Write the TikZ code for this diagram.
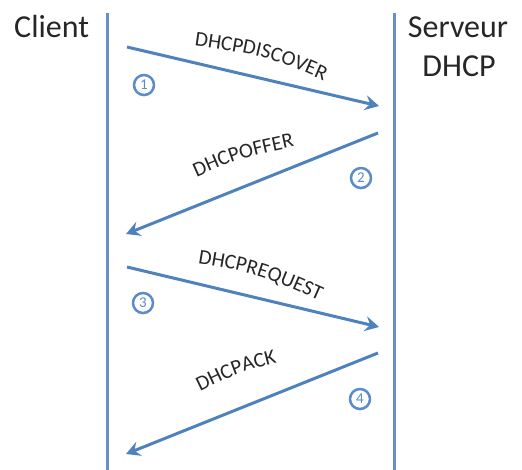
\documentclass[tikz,border=0pt]{standalone}
\usepackage{fontspec}
\setmainfont{Carlito}
\usetikzlibrary{arrows.meta,shadows,decorations.text}
\definecolor{msgblue}{HTML}{4F81BD}
\definecolor{lifeblue}{HTML}{6690C6}
\definecolor{numblue}{HTML}{5B8BC8}
\newcommand{\labelfont}{\fontsize{21}{21}\selectfont}
\tikzset{
  lifeline/.style={draw=lifeblue, line width=3pt},
  msg/.style={draw=msgblue, line width=3pt,
    -{Stealth[length=14pt, width=15pt, inset=5pt]}},
  % message name set along a gently arched baseline
  arched/.style={decorate, decoration={text along path, text align=center,
    text color=black!85, text={|\labelfont|#1}}},
  party/.style={font=\fontsize{32}{40}\selectfont, inner sep=0pt, text=black!85},
  stepnum/.style={circle, draw=numblue, line width=2.5pt, fill=white,
    minimum size=20pt, inner sep=0pt, text=numblue,
    font=\fontsize{15}{15}\selectfont,
    drop shadow={shadow xshift=0pt, shadow yshift=-1.5pt, opacity=0.25, fill=gray}}
}
\begin{document}
\begin{tikzpicture}[x=1pt, y=-1pt]
  \useasboundingbox (0,0) rectangle (522,470);

  % Participants
  \node[party, anchor=base west] (client) at (14,38) {Client};
  \node[party, anchor=base] (server) at (458,38) {Serveur};
  \node[party, anchor=base] (serverdhcp) at (459,77) {DHCP};

  % Lifelines
  \coordinate (ctop) at (107,13);
  \coordinate (cbot) at (107,470);
  \coordinate (stop) at (394,13);
  \coordinate (sbot) at (394,470);
  \draw[lifeline] (ctop) -- (cbot);
  \draw[lifeline] (stop) -- (sbot);

  % Message end points
  \coordinate (m1a) at (127,47);  \coordinate (m1b) at (379,106);
  \coordinate (m2a) at (378,133); \coordinate (m2b) at (126,234);
  \coordinate (m3a) at (127,267); \coordinate (m3b) at (379,327);
  \coordinate (m4a) at (378,353); \coordinate (m4b) at (126,454);

  \draw[msg] (m1a) -- (m1b);
  \draw[msg] (m2a) -- (m2b);
  \draw[msg] (m3a) -- (m3b);
  \draw[msg] (m4a) -- (m4b);

  % Message names
  \coordinate (t1a) at (179,43.3);  \coordinate (t1c) at (268,56);     \coordinate (t1b) at (338,86.9);
  \coordinate (t2a) at (188,180.9); \coordinate (t2c) at (238.8,158.3); \coordinate (t2b) at (303.7,144.5);
  \coordinate (t3a) at (183.1,261.1); \coordinate (t3c) at (256.2,272.7); \coordinate (t3b) at (333,306.9);
  \coordinate (t4a) at (190.2,396.3); \coordinate (t4c) at (239.9,372);  \coordinate (t4b) at (287.6,360.1);
  \path[arched=DHCPDISCOVER] (t1a) .. controls (t1c) .. (t1b);
  \path[arched=DHCPOFFER]    (t2a) .. controls (t2c) .. (t2b);
  \path[arched=DHCPREQUEST]  (t3a) .. controls (t3c) .. (t3b);
  \path[arched=DHCPACK]      (t4a) .. controls (t4c) .. (t4b);

  % Step numbers
  \node[stepnum] (n1) at (144,85) {1};
  \node[stepnum] (n2) at (361,178) {2};
  \node[stepnum] (n3) at (143,303) {3};
  \node[stepnum] (n4) at (360,399) {4};
\end{tikzpicture}
\end{document}
